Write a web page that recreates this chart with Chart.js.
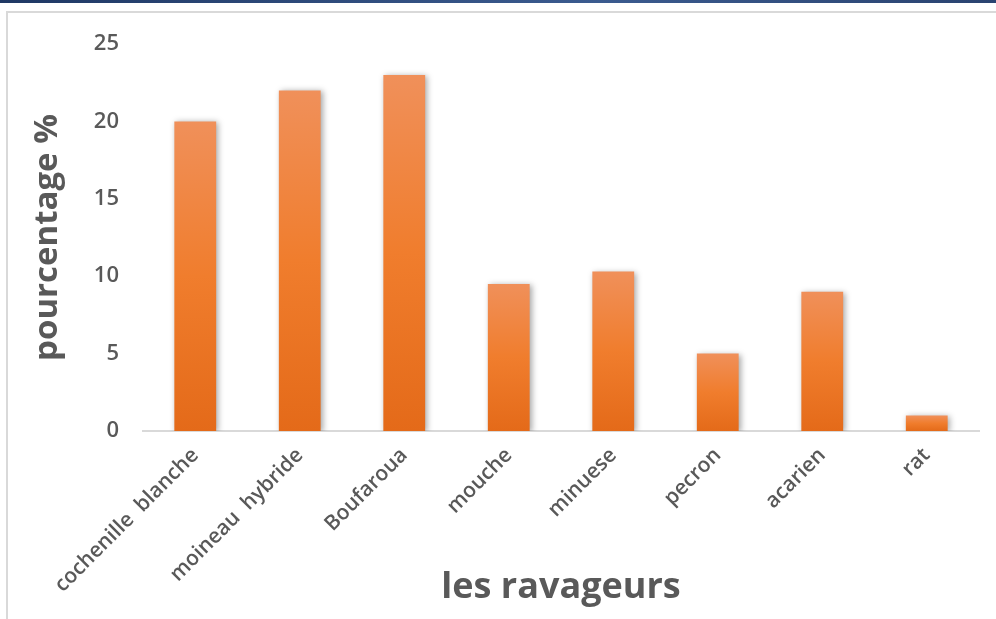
<!DOCTYPE html>
<html>
<head>
<meta charset="utf-8">
<script src="https://cdn.jsdelivr.net/npm/chart.js@4/dist/chart.umd.min.js"></script>
<style>
  html, body { margin: 0; padding: 0; background: #fff; }
  #topline { position: absolute; left: 0; top: 0; width: 996px; height: 3px;
             background: linear-gradient(to right, #1f3864, #3b5b8f 60%, #2a4370); }
  #frame { position: absolute; left: 6px; top: 11px; width: 1000px; height: 620px;
           border: 2px solid #d9d9d9; box-sizing: border-box; }
  #wrap { position: absolute; left: 0; top: 0; width: 996px; height: 619px; }
</style>
</head>
<body>
<div id="topline"></div>
<div id="frame"></div>
<div id="wrap"><canvas id="myChart"></canvas></div>
<script>
// données
var ravageurs = ['cochenille  blanche', 'moineau  hybride', 'Boufaroua', 'mouche', 'minuese', 'pecron', 'acarien', 'rat'];
var pourcentages = [20, 22, 23, 9.5, 10.3, 5, 9, 1];
var yTicks = [0, 5, 10, 15, 20, 25];

var gris = '#595959';

// dégradé par barre (clair en haut, foncé en bas)
function barColor(context) {
    var chart = context.chart;
    var area = chart.chartArea;
    if (!area || !chart.scales.y) return '#ED7D31';
    var yTop = chart.scales.y.getPixelForValue(context.raw);
    var yBot = chart.scales.y.getPixelForValue(0);
    if (!isFinite(yTop) || yBot - yTop < 1) return '#F07B30';
    var g = chart.ctx.createLinearGradient(0, yTop, 0, yBot);
    g.addColorStop(0, '#F0905A');
    g.addColorStop(0.5, '#F07D2D');
    g.addColorStop(1, '#E46A19');
    return g;
}

// ombre portée des barres
var ombre = {
    id: 'ombre',
    beforeDatasetsDraw: function(chart) {
        var ctx = chart.ctx;
        ctx.save();
        ctx.shadowColor = 'rgba(0,0,0,0.35)';
        ctx.shadowBlur = 6;
        ctx.shadowOffsetX = 2;
        ctx.shadowOffsetY = 1;
    },
    afterDatasetsDraw: function(chart) {
        chart.ctx.restore();
    }
};

var ctx = document.getElementById('myChart').getContext('2d');
var myChart = new Chart(ctx, {
    type: 'bar',
    data: {
        labels: ravageurs,
        datasets: [{
            data: pourcentages,
            backgroundColor: barColor,
            borderWidth: 0,
            barPercentage: 0.4,
            categoryPercentage: 1
        }]
    },
    options: {
        responsive: true,
        maintainAspectRatio: false,
        animation: false,
        layout: { padding: { top: 44, right: 17, left: 0, bottom: 0 } },
        plugins: {
            legend: { display: false },
            tooltip: { enabled: false }
        },
        scales: {
            x: {
                grid: { display: false, drawTicks: false },
                border: { display: true, color: '#d9d9d9', width: 2 },
                ticks: {
                    color: gris,
                    font: { family: 'Open Sans', size: 21, weight: '600' },
                    maxRotation: 45,
                    minRotation: 45,
                    padding: 12
                },
                title: {
                    display: true,
                    text: 'les ravageurs',
                    color: gris,
                    font: { family: 'Open Sans', size: 36, weight: 'bold' },
                    padding: { top: 0, bottom: 10 }
                },
                afterFit: function(scale) { scale.height = 188; }
            },
            y: {
                min: 0,
                max: 25,
                afterBuildTicks: function(scale) {
                    scale.ticks = yTicks.map(function(v) { return { value: v }; });
                },
                grid: { display: false, drawTicks: false },
                border: { display: false },
                ticks: {
                    color: gris,
                    font: { family: 'Open Sans', size: 22, weight: '600' },
                    padding: 24
                },
                title: {
                    display: true,
                    text: 'pourcentage %',
                    color: gris,
                    font: { family: 'Open Sans', size: 33, weight: 'bold' },
                    padding: { top: 28, bottom: 0 }
                },
                afterFit: function(scale) { scale.width = 143; }
            }
        }
    },
    plugins: [ombre]
});
</script>
</body>
</html>
